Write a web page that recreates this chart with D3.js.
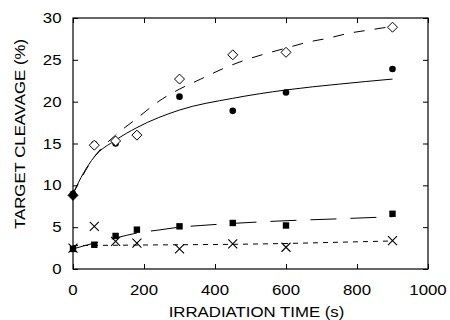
<!DOCTYPE html>
<html><head><meta charset="utf-8">
<script src="https://cdn.jsdelivr.net/npm/d3@7"></script>
<style>body{margin:0;background:#fff}svg{display:block}text{font-family:"Liberation Sans",Arial,sans-serif;fill:#000}</style>
</head><body><svg id="c" width="450" height="320"></svg>
<script>
const times = [0, 60, 120, 180, 300, 450, 600, 900];
const diamonds = [8.8, 14.8, 15.3, 16.0, 22.7, 25.6, 25.9, 28.9];
const circles = [9.0, 14.9, 15.0, 16.0, 20.6, 18.9, 21.1, 23.9];
const squares = [2.4, 2.9, 3.95, 4.7, 5.1, 5.5, 5.2, 6.6];
const crosses = [2.5, 5.1, 3.3, 3.1, 2.4, 3.0, 2.6, 3.4];

const fitDiamondT = [0, 60, 120, 180, 240, 300, 360, 420, 480, 540, 600, 660, 720, 780, 840, 900];
const fitDiamondV = [9.0, 13.4, 16.0, 18.0, 20.0, 21.5, 22.7, 23.9, 24.9, 25.7, 26.4, 27.1, 27.6, 28.2, 28.6, 29.0];
const fitCircleT = [0, 30, 60, 120, 180, 300, 450, 600, 750, 900];
const fitCircleV = [9.0, 11.5, 13.4, 15.4, 16.9, 19.0, 20.4, 21.4, 22.1, 22.7];
const fitSquareT = [0, 60, 120, 180, 240, 300, 360, 450, 600, 750, 900];
const fitSquareV = [2.4, 3.1, 3.7, 4.3, 4.65, 5.0, 5.2, 5.45, 5.77, 6.0, 6.25];
const fitCrossT = [0, 300, 450, 600, 750, 900];
const fitCrossV = [2.8, 2.9, 2.95, 3.05, 3.2, 3.35];

const xTicks = [0, 200, 400, 600, 800, 1000];
const yTicks = [0, 5, 10, 15, 20, 25, 30];

const svg = d3.select("#c");
const L = 73, R = 428, T = 18, B = 269;
const x = d3.scaleLinear().domain([0, 1000]).range([L, R]);
const y = d3.scaleLinear().domain([0, 30]).range([B, T]);
const SX = 1.2;

// frame
svg.append("rect").attr("x", L).attr("y", T).attr("width", R - L).attr("height", B - T)
  .attr("fill", "none").attr("stroke", "#000").attr("stroke-width", 1.2);

const tl = 5;
const ax = (a) => a.tickSizeInner(-tl).tickSizeOuter(0).tickFormat("");
svg.append("g").attr("transform", `translate(0,${B})`).call(ax(d3.axisBottom(x).tickValues(xTicks))).call(g => g.select(".domain").remove());
svg.append("g").attr("transform", `translate(0,${T})`).call(ax(d3.axisTop(x).tickValues(xTicks))).call(g => g.select(".domain").remove());
svg.append("g").attr("transform", `translate(${L},0)`).call(ax(d3.axisLeft(y).tickValues(yTicks))).call(g => g.select(".domain").remove());
svg.append("g").attr("transform", `translate(${R},0)`).call(ax(d3.axisRight(y).tickValues(yTicks))).call(g => g.select(".domain").remove());

// tick labels (stretched horizontally like the reference)
svg.append("g").selectAll("text").data(xTicks).join("text")
  .attr("transform", d => `translate(${x(d)},295) scale(${SX},1)`)
  .attr("text-anchor", "middle").attr("font-size", 14).text(d => d);
svg.append("g").selectAll("text").data(yTicks).join("text")
  .attr("transform", d => `translate(61.5,${y(d) + 5}) scale(${SX},1)`)
  .attr("text-anchor", "end").attr("font-size", 14).text(d => d);

svg.append("text").attr("transform", `translate(${(L + R) / 2 + 6},317) scale(${SX},1)`).attr("text-anchor", "middle")
  .attr("font-size", 14).text("IRRADIATION TIME (s)");
svg.append("text").attr("transform", `translate(25,134) rotate(-90) scale(${SX},1)`).attr("text-anchor", "middle")
  .attr("font-size", 14).text("TARGET CLEAVAGE (%)");

// fit lines
const line = d3.line().x(d => x(d[0])).y(d => y(d[1])).curve(d3.curveMonotoneX);
function fit(ts, vs, dash) {
  svg.append("path").datum(ts.map((t, i) => [t, vs[i]])).attr("d", line)
    .attr("fill", "none").attr("stroke", "#000").attr("stroke-width", 1).attr("stroke-dasharray", dash);
}
fit(fitCircleT, fitCircleV, null);
fit(fitDiamondT, fitDiamondV, "11,10");
fit(fitSquareT, fitSquareV, "26,14");
fit(fitCrossT, fitCrossV, "5,5");

// markers
const g = svg.append("g");
g.selectAll(".cr").data(times.map((t, i) => [t, crosses[i]])).join("path")
  .attr("d", d => { const cx = x(d[0]), cy = y(d[1]), s = 4.5; return `M${cx - s},${cy - s}L${cx + s},${cy + s}M${cx - s},${cy + s}L${cx + s},${cy - s}`; })
  .attr("stroke", "#000").attr("stroke-width", 1.1).attr("fill", "none");
g.selectAll(".sq").data(times.map((t, i) => [t, squares[i]])).join("rect")
  .attr("x", d => x(d[0]) - 3.2).attr("y", d => y(d[1]) - 3.2).attr("width", 6.4).attr("height", 6.4).attr("fill", "#000");
g.selectAll(".ci").data(times.map((t, i) => [t, circles[i]])).join("circle")
  .attr("cx", d => x(d[0])).attr("cy", d => y(d[1])).attr("r", 3.3).attr("fill", "#000");
g.selectAll(".di").data(times.map((t, i) => [t, diamonds[i]])).join("path")
  .attr("d", d => { const cx = x(d[0]), cy = y(d[1]), s = 5; return `M${cx},${cy - s}L${cx + s},${cy}L${cx},${cy + s}L${cx - s},${cy}Z`; })
  .attr("fill", (d, i) => i === 0 ? "#000" : "#fff").attr("stroke", "#000").attr("stroke-width", 1);
</script></body></html>
